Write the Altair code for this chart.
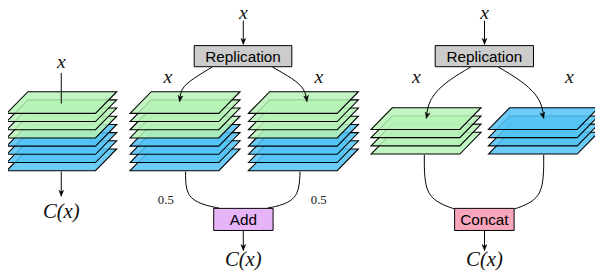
import altair as alt
import pandas as pd

# ---------------- diagram contents (reference pixel coordinates) ----------------
# plane stacks: bottom-left x of each stack's top plane, top edge y of the top plane
stack_x0 = [6.7, 131.7, 251.7, 376.0, 495.0]
stack_y0 = [91.0, 91.0, 91.0, 107.3, 107.3]
stack_kinds = [
    ["g", "g", "g", "g", "b", "b", "b", "b"],
    ["g", "g", "g", "g", "b", "b", "b", "b"],
    ["g", "g", "g", "g", "b", "b", "b", "b"],
    ["g", "g", "g", "g"],
    ["b", "b", "b", "b"],
]
plane_width = 90.0
plane_skew = 21.5
plane_depth = 22.0
plane_gap = 8.3
plane_fill = {"g": "#b6f3b6", "b": "#52c3f6"}

# boxes
box_labels = ["Replication", "Replication", "Add", "Concat"]
box_x1 = [196.7, 441.0, 216.5, 460.7]
box_x2 = [295.7, 540.7, 276.7, 521.0]
box_y1 = [44.3, 44.3, 209.3, 209.3]
box_y2 = [65.7, 65.7, 231.7, 231.7]
box_fill = ["#cccccc", "#cccccc", "#e8b4f8", "#f7a6bc"]

# straight connectors: x, y start, y end
straight_x = [246.5, 491.0, 246.5, 491.0, 62.0, 62.0]
straight_y1 = [19.0, 19.0, 232.0, 232.0, 172.0, 72.0]
straight_y2 = [43.0, 43.0, 252.0, 252.0, 197.0, 103.0]

# curved connectors (control points for a basis spline)
curves = [
    [(215, 66), (195, 78), (183, 88), (182, 101)],
    [(276, 66), (297, 78), (309, 88), (311, 101)],
    [(477, 66), (450, 82), (434, 100), (432, 118)],
    [(505, 66), (532, 82), (549, 100), (551, 118)],
    [(188, 172), (188, 197), (206, 206), (222, 209)],
    [(304, 172), (303, 197), (287, 206), (271, 209)],
    [(430, 155), (430, 193), (446, 205), (461, 210)],
    [(551, 155), (551, 193), (536, 205), (521, 210)],
]

# arrow heads: tip x, tip y, rotation
head_x = [246.5, 491.0, 246.5, 491.0, 62.0, 182.0, 311.0, 432.0, 551.0]
head_y = [43.0, 43.0, 252.0, 252.0, 197.0, 101.0, 101.0, 118.0, 118.0]
head_angle = [0, 0, 0, 0, 0, 8, 352, 14, 346]

# math labels
x_label_x = [246.5, 491.0, 62.0, 170.0, 323.0, 422.0, 577.0]
x_label_y = [17.0, 17.0, 67.0, 82.0, 82.0, 82.0, 82.0]
cx_label_x = [62.0, 246.5, 491.0]
cx_label_y = [219.0, 268.0, 268.0]
w_label_x = [168.0, 323.0]
w_label_y = [205.0, 205.0]
w_labels = ["0.5", "0.5"]

# ---------------- chart ----------------
W, H = 595, 266
xs = alt.Scale(domain=[8, 603], nice=False, zero=False)
ys = alt.Scale(domain=[8, 274], nice=False, zero=False, reverse=True)


def X(f="x"):
    return alt.X(f"{f}:Q", scale=xs, axis=None)


def Y(f="y"):
    return alt.Y(f"{f}:Q", scale=ys, axis=None)


layers = []

# planes, drawn from the bottom plane of each stack up to the top one
for sx, sy, kinds in zip(stack_x0, stack_y0, stack_kinds):
    for j in reversed(range(len(kinds))):
        top = sy + j * plane_gap
        bot = top + plane_depth
        df = pd.DataFrame({
            "x": [sx, sx + plane_skew, sx + plane_width, sx + plane_width + plane_skew],
            "y": [bot, top, top, top],
            "y2": [bot, bot, bot, top],
        })
        layers.append(
            alt.Chart(df).mark_area(
                fill=plane_fill[kinds[j]], fillOpacity=0.85,
                stroke="black", strokeWidth=1.1, strokeJoin="miter",
            ).encode(x=X(), y=Y(), y2="y2:Q")
        )

# straight lines
sdf = pd.DataFrame({"x": straight_x, "y": straight_y1, "y2": straight_y2})
layers.append(
    alt.Chart(sdf).mark_rule(color="black", strokeWidth=1).encode(x=X(), y=Y(), y2="y2:Q")
)

# curves
rows = []
for k, pts in enumerate(curves):
    for i, (px, py) in enumerate(pts):
        rows.append({"c": k, "o": i, "x": px, "y": py})
cdf = pd.DataFrame(rows)
layers.append(
    alt.Chart(cdf).mark_line(color="black", strokeWidth=1, interpolate="basis").encode(
        x=X(), y=Y(), detail="c:N", order="o:Q"
    )
)

# boxes
bdf = pd.DataFrame({
    "label": box_labels, "x": box_x1, "x2": box_x2, "y": box_y1, "y2": box_y2,
    "fill": box_fill,
})
bdf["cx"] = (bdf["x"] + bdf["x2"]) / 2
bdf["cy"] = (bdf["y"] + bdf["y2"]) / 2
layers.append(
    alt.Chart(bdf).mark_rect(stroke="black", strokeWidth=1).encode(
        x=X(), x2="x2:Q", y=Y(), y2="y2:Q", fill=alt.Fill("fill:N", scale=None)
    )
)
layers.append(
    alt.Chart(bdf).mark_text(
        font="Liberation Sans", fontSize=15.5, color="black", baseline="middle", align="center", dy=1
    ).encode(x=X("cx"), y=Y("cy"), text="label:N")
)

# arrow heads
hdf = pd.DataFrame({"x": head_x, "y": head_y, "a": head_angle})
layers.append(
    alt.Chart(hdf).mark_point(
        shape="M0,0 L-0.8,-2 L0,-1.45 L0.8,-2 Z", size=36, filled=True,
        color="black", opacity=1, strokeWidth=0.5, stroke="black",
    ).encode(x=X(), y=Y(), angle=alt.Angle("a:Q", scale=None))
)

# labels
xdf = pd.DataFrame({"x": x_label_x, "y": x_label_y, "t": ["x"] * len(x_label_x)})
layers.append(
    alt.Chart(xdf).mark_text(
        font="Liberation Serif", fontStyle="italic", fontSize=20, color="#111",
        baseline="alphabetic", align="center",
    ).encode(x=X(), y=Y(), text="t:N")
)
cdf2 = pd.DataFrame({"x": cx_label_x, "y": cx_label_y, "t": ["C(x)"] * len(cx_label_x)})
layers.append(
    alt.Chart(cdf2).mark_text(
        font="Liberation Serif", fontStyle="italic", fontSize=21, color="#111",
        baseline="alphabetic", align="center",
    ).encode(x=X(), y=Y(), text="t:N")
)
wdf = pd.DataFrame({"x": w_label_x, "y": w_label_y, "t": w_labels})
layers.append(
    alt.Chart(wdf).mark_text(
        font="Liberation Serif", fontSize=13, color="#222",
        baseline="alphabetic", align="center",
    ).encode(x=X(), y=Y(), text="t:N")
)

chart = alt.layer(*layers).properties(
    width=W, height=H, padding=0, autosize=alt.AutoSizeParams(type="none")
).configure_view(strokeWidth=0)

chart.save("out.html", embed_options={"renderer": "svg", "actions": False})
